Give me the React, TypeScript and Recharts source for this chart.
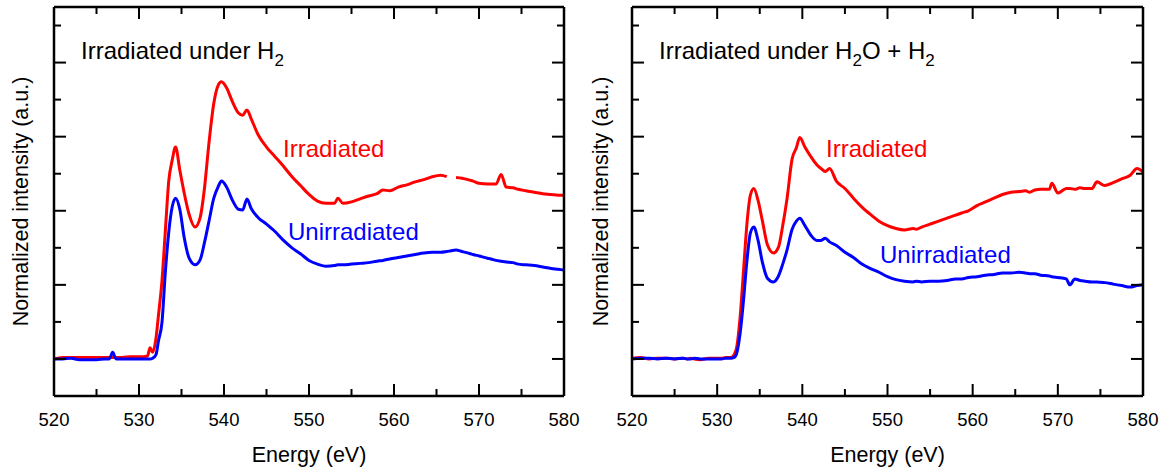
import { LineChart, Line, XAxis, YAxis } from 'recharts'

const FONT = '"Liberation Sans", Arial, Helvetica, sans-serif'
const RED = '#ff0000'
const BLUE = '#0000ff'

// photon energy grid (eV), shared by all four spectra
const ENERGY = [
  520, 521, 522, 523, 524, 525, 526, 526.5, 526.9, 527.3,
  528, 529, 530, 530.5, 531, 531.3, 531.6, 532, 532.3, 532.7,
  533.1, 533.5, 533.9, 534.3, 534.8, 535.3, 535.9, 536.6, 537.2, 537.7,
  538.2, 538.8, 539.3, 539.7, 540.3, 541, 541.7, 542.2, 542.7, 543.2,
  544, 545, 546, 547, 548, 549, 550, 551, 552, 553,
  553.4, 554, 555, 556, 557, 558, 558.7, 559.5, 560.5, 561.5,
  562.5, 563.5, 564.5, 565.5, 566.2, 566.7, 567.3, 568, 569, 569.3,
  570, 571, 571.4, 572, 572.6, 573.2, 574, 574.6, 575.5, 576.5,
  577.5, 578.5, 579.3, 580,
]

// left panel: irradiated under H2
const H2_IRRADIATED = [
  0.0, 0.02, 0.02, 0.02, 0.02, 0.02, 0.02, 0.02, 0.02, 0.02,
  0.02, 0.03, 0.03, 0.03, 0.04, 0.15, 0.09, 0.28, 0.6, 1.05,
  1.73, 2.4, 2.68, 2.86, 2.55, 2.25, 1.95, 1.78, 1.91, 2.3,
  2.88, 3.45, 3.69, 3.74, 3.66, 3.47, 3.32, 3.29, 3.36, 3.24,
  3.03, 2.86, 2.73, 2.6, 2.46, 2.34, 2.22, 2.13, 2.1, 2.1,
  2.17, 2.1, 2.12, 2.16, 2.2, 2.23, 2.28, 2.27, 2.32, 2.35,
  2.39, 2.42, 2.46, 2.48, 2.46, null, 2.45, 2.44, 2.41, 2.4,
  2.37, 2.36, 2.36, 2.36, 2.49, 2.32, 2.31, 2.29, 2.27, 2.25,
  2.23, 2.22, 2.21, 2.21,
]
const H2_UNIRRADIATED = [
  0.0, 0.0, 0.01, -0.01, -0.01, -0.01, 0.0, 0.0, 0.09, 0.0,
  0.0, 0.0, 0.0, 0.0, 0.0, 0.0, 0.01, 0.06, 0.25, 0.49,
  1.17, 1.71, 2.05, 2.17, 2.02, 1.65, 1.36, 1.27, 1.34, 1.57,
  1.84, 2.17, 2.32, 2.4, 2.32, 2.14, 2.02, 2.01, 2.16, 2.03,
  1.91, 1.82, 1.72, 1.6, 1.5, 1.42, 1.33, 1.28, 1.25, 1.26,
  1.27, 1.27, 1.28, 1.29, 1.3, 1.32, 1.33, 1.35, 1.37, 1.39,
  1.41, 1.43, 1.44, 1.44, 1.45, 1.46, 1.47, 1.45, 1.42, 1.41,
  1.39, 1.36, 1.35, 1.33, 1.32, 1.31, 1.3, 1.28, 1.27, 1.26,
  1.24, 1.22, 1.21, 1.2,
]

// right panel: irradiated under H2O + H2
const H2O_H2_IRRADIATED = [
  0.01, 0.02, 0.0, 0.01, 0.01, 0.0, 0.01, 0.0, 0.01, 0.0,
  -0.01, 0.01, 0.01, 0.01, 0.02, 0.02, 0.02, 0.06, 0.16, 0.57,
  1.2, 1.83, 2.21, 2.3, 2.14, 1.87, 1.54, 1.43, 1.51, 1.8,
  2.16, 2.7, 2.85, 2.99, 2.86, 2.73, 2.62, 2.57, 2.53, 2.57,
  2.4, 2.3, 2.17, 2.05, 1.95, 1.86, 1.8, 1.76, 1.74, 1.76,
  1.75, 1.78, 1.82, 1.86, 1.9, 1.94, 1.97, 2.0, 2.07, 2.12,
  2.17, 2.22, 2.25, 2.26, 2.27, 2.25, 2.28, 2.29, 2.29, 2.37,
  2.24, 2.3, 2.3, 2.29, 2.31, 2.3, 2.3, 2.39, 2.34, 2.38,
  2.43, 2.48, 2.57, 2.52,
]
const H2O_H2_UNIRRADIATED = [
  0.0, 0.01, 0.01, 0.0, 0.01, 0.0, 0.01, 0.0, 0.0, 0.01,
  0.0, 0.0, 0.0, 0.0, 0.01, 0.01, 0.01, 0.02, 0.08, 0.35,
  0.8, 1.33, 1.7, 1.78, 1.6, 1.31, 1.09, 1.04, 1.12, 1.28,
  1.47, 1.75, 1.86, 1.9, 1.8, 1.67, 1.6, 1.6, 1.63, 1.58,
  1.53, 1.44, 1.37, 1.28, 1.22, 1.17, 1.11, 1.07, 1.05, 1.04,
  1.05, 1.04, 1.05, 1.05, 1.06, 1.08, 1.08, 1.1, 1.11, 1.13,
  1.14, 1.16, 1.16, 1.17, 1.16, 1.15, 1.15, 1.13, 1.12, 1.11,
  1.1, 1.08, 1.0, 1.08, 1.06, 1.05, 1.04, 1.04, 1.03, 1.01,
  0.99, 0.97, 0.99, 1.0,
]

const X_TICKS = [520, 525, 530, 535, 540, 545, 550, 555, 560, 565, 570, 575, 580]
const Y_TICKS = [0, 0.5, 1, 1.5, 2, 2.5, 3, 3.5, 4, 4.5]

const MAJOR = 12
const MINOR = 7

const W = 581
const H = 470
const TOP = 7
const BOTTOM = 74
const PLOT_H = H - TOP - BOTTOM
const AX = 1 // thickness reserved for each axis

// bottom ticks point inward, and are mirrored on the top edge of the frame
function XTick({ x, y, payload }: any) {
  const major = payload.value % 10 === 0
  const len = major ? MAJOR : MINOR
  const top = y - PLOT_H
  return (
    <g>
      <line x1={x} x2={x} y1={y} y2={y - len} stroke="#000" strokeWidth={2} />
      <line x1={x} x2={x} y1={top} y2={top + len} stroke="#000" strokeWidth={2} />
      {major && (
        <text x={x} y={y + 30} textAnchor="middle" fontSize={18.5} fontFamily={FONT} fill="#000">
          {payload.value}
        </text>
      )}
    </g>
  )
}

// left ticks point inward, mirrored on the right edge
function YTick({ x, y, payload, plotW }: any) {
  const len = Number.isInteger(payload.value) ? MAJOR : MINOR
  const right = x + plotW
  return (
    <g>
      <line x1={x} x2={x + len} y1={y} y2={y} stroke="#000" strokeWidth={2} />
      <line x1={right} x2={right - len} y1={y} y2={y} stroke="#000" strokeWidth={2} />
    </g>
  )
}

interface PanelProps {
  irradiated: (number | null)[]
  unirradiated: (number | null)[]
  marginLeft: number
  marginRight: number
  title: React.ReactNode
  titleX: number
  irrX: number
  irrY: number
  unirrX: number
  unirrY: number
  yTitleX: number
}

function Panel(p: PanelProps) {
  const data = ENERGY.map((e, i) => ({ e, irr: p.irradiated[i], unirr: p.unirradiated[i] }))
  const plotW = W - p.marginLeft - p.marginRight
  const plotMid = p.marginLeft + plotW / 2
  const yMid = TOP + PLOT_H / 2
  const axisLine = { stroke: '#000', strokeWidth: 2.5 }
  return (
    <LineChart
      width={W}
      height={H}
      data={data}
      margin={{ top: TOP - AX, right: p.marginRight - AX, bottom: BOTTOM - AX, left: p.marginLeft - AX }}
    >
      <XAxis
        xAxisId="bottom"
        dataKey="e"
        type="number"
        domain={[520, 580]}
        ticks={X_TICKS}
        interval={0}
        height={AX}
        tickSize={0}
        tickMargin={0}
        tickLine={false}
        axisLine={axisLine}
        tick={(t: any) => <XTick {...t} />}
      />
      <XAxis
        xAxisId="top"
        orientation="top"
        type="number"
        domain={[520, 580]}
        height={AX}
        tickLine={false}
        tick={false}
        axisLine={axisLine}
      />
      <YAxis
        yAxisId="left"
        type="number"
        domain={[-0.5, 4.75]}
        ticks={Y_TICKS}
        interval={0}
        width={AX}
        tickSize={0}
        tickMargin={0}
        tickLine={false}
        axisLine={axisLine}
        tick={(t: any) => <YTick {...t} plotW={plotW} />}
      />
      <YAxis
        yAxisId="right"
        orientation="right"
        type="number"
        domain={[-0.5, 4.75]}
        width={AX}
        tickLine={false}
        tick={false}
        axisLine={axisLine}
      />
      <Line
        xAxisId="bottom"
        yAxisId="left"
        dataKey="irr"
        type="monotone"
        stroke={RED}
        strokeWidth={3}
        dot={false}
        activeDot={false}
        isAnimationActive={false}
      />
      <Line
        xAxisId="bottom"
        yAxisId="left"
        dataKey="unirr"
        type="monotone"
        stroke={BLUE}
        strokeWidth={3}
        dot={false}
        activeDot={false}
        isAnimationActive={false}
      />
      <text x={p.titleX} y={59} fontSize={24} fontFamily={FONT} fill="#000">
        {p.title}
      </text>
      <text x={p.irrX} y={p.irrY} fontSize={24} fontFamily={FONT} fill={RED}>
        Irradiated
      </text>
      <text x={p.unirrX} y={p.unirrY} fontSize={24} fontFamily={FONT} fill={BLUE}>
        Unirradiated
      </text>
      <text x={plotMid} y={462} textAnchor="middle" fontSize={21.5} fontFamily={FONT} fill="#000">
        Energy (eV)
      </text>
      <text
        x={p.yTitleX}
        y={yMid}
        transform={`rotate(-90, ${p.yTitleX}, ${yMid})`}
        textAnchor="middle"
        fontSize={21.5}
        fontFamily={FONT}
        fill="#000"
      >
        Normalized intensity (a.u.)
      </text>
    </LineChart>
  )
}

const sub = (s: string) => (
  <tspan fontSize={17} dy={7}>
    {s}
  </tspan>
)

export default function App() {
  return (
    <div style={{ position: 'absolute', left: 0, top: 0, width: 1162, height: 470, background: '#fff', display: 'flex' }}>
      <Panel
        irradiated={H2_IRRADIATED}
        unirradiated={H2_UNIRRADIATED}
        marginLeft={54}
        marginRight={17}
        title={<>Irradiated under H{sub('2')}</>}
        titleX={81}
        irrX={283}
        irrY={157}
        unirrX={288}
        unirrY={240}
        yTitleX={28}
      />
      <Panel
        irradiated={H2O_H2_IRRADIATED}
        unirradiated={H2O_H2_UNIRRADIATED}
        marginLeft={51}
        marginRight={19}
        title={
          <>
            Irradiated under H{sub('2')}
            <tspan dy={-7}>O + H</tspan>
            {sub('2')}
          </>
        }
        titleX={78}
        irrX={245}
        irrY={157}
        unirrX={299}
        unirrY={263}
        yTitleX={27}
      />
    </div>
  )
}
